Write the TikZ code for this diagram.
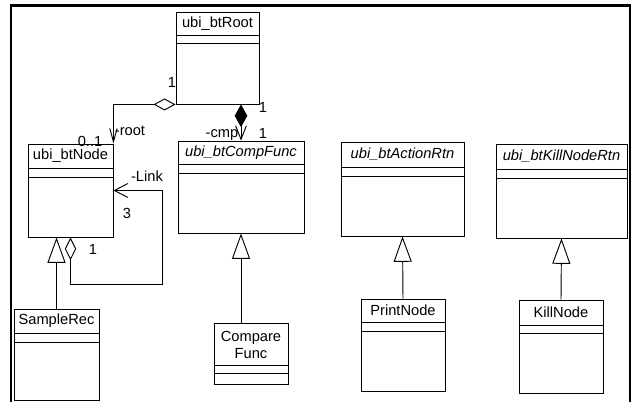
\documentclass[tikz,border=0pt]{standalone}
\usepackage{fontspec}
\setmainfont{Liberation Sans}
\usetikzlibrary{arrows.meta,fit}

\tikzset{
  classbox/.style={draw, inner sep=0pt, line width=0.7pt},
  cname/.style={inner sep=0.75pt, font=\fontsize{11pt}{12.75pt}\selectfont, align=center},
  role/.style={inner sep=0.75pt, font=\fontsize{11pt}{12.75pt}\selectfont},
  inherit/.style={line width=0.7pt, -{Triangle[open, length=19pt, width=13.5pt]}},
  assoc/.style={line width=0.7pt}
}

\begin{document}
\begin{tikzpicture}[x=0.75pt,y=0.75pt,yscale=-1]
  \useasboundingbox (0,0) rectangle (632,402);

  %Frame
  \draw [line width=1.6pt] (11,402) -- (11,5.5) -- (630,5.5) -- (630,402);

  %Class boxes
  \node [classbox, fit={(176,12) (259,104)}] (root) {};
  \node [classbox, fit={(28,144) (113,237)}] (btnode) {};
  \node [classbox, fit={(178,141) (304,233)}] (cmpfunc) {};
  \node [classbox, fit={(341,142) (464,236)}] (actrtn) {};
  \node [classbox, fit={(496,144) (627,238)}] (killrtn) {};
  \node [classbox, fit={(14,309) (99,400)}] (samplerec) {};
  \node [classbox, fit={(214,323) (288,384)}] (comparefunc) {};
  \node [classbox, fit={(361,299) (445,391)}] (printnode) {};
  \node [classbox, fit={(519,300) (603,393)}] (killnode) {};

  %Compartment lines
  \draw [line width=0.7pt] (176,35) -- (259,35) (176,43) -- (259,43);
  \draw [line width=0.7pt] (28,168) -- (113,168) (28,177) -- (113,177);
  \draw [line width=0.7pt] (178,164) -- (304,164) (178,173) -- (304,173);
  \draw [line width=0.7pt] (341,167) -- (464,167) (341,176) -- (464,176);
  \draw [line width=0.7pt] (496,169) -- (627,169) (496,178) -- (627,178);
  \draw [line width=0.7pt] (14,333) -- (99,333) (14,342) -- (99,342);
  \draw [line width=0.7pt] (214,365) -- (288,365) (214,373) -- (288,373);
  \draw [line width=0.7pt] (361,322) -- (445,322) (361,331) -- (445,331);
  \draw [line width=0.7pt] (519,325) -- (603,325) (519,333) -- (603,333);

  % Text Node
  \node [cname] (rootname) at (217.5,23.5) {ubi\_btRoot};
  \node [cname] (btnodename) at (70.5,156) {ubi\_btNode};
  \node [cname] (cmpfuncname) at (241,152.5) {\itshape ubi\_btCompFunc};
  \node [cname] (actrtnname) at (402.5,154.5) {\itshape ubi\_btActionRtn};
  \node [cname] (killrtnname) at (561.5,156.5) {\itshape ubi\_btKillNodeRtn};
  \node [cname] (samplerecname) at (56.5,321) {SampleRec};
  \node [cname] (comparefuncname) at (251,344.5) {Compare\\Func};
  \node [cname] (printnodename) at (403,310.5) {PrintNode};
  \node [cname] (killnodename) at (561,312.5) {KillNode};

  %Association root
  \draw [assoc, {Diamond[open, length=16.5pt, width=9pt]}-{Straight Barb[length=10pt, width=5.5pt]}] (root.south west) -| (btnode.north east);
  %Composition cmp
  \draw [assoc, {Diamond[length=17pt, width=9.5pt]}-{Straight Barb[length=10pt, width=8pt]}] (root.south -| cmpfunc.north) -- (cmpfunc.north);
  %Association Link
  \draw [assoc, {Diamond[open, length=17pt, width=8.5pt]}-{Straight Barb[length=10pt, width=10.5pt]}] (btnode.south) |- (162,284) |- (btnode.east);

  %Generalizations
  \draw [inherit] (samplerec.north) -- (samplerec.north |- btnode.south);
  \draw [inherit] (comparefunc.north -| cmpfunc.south) -- (cmpfunc.south);
  \draw [inherit] (printnode.north) -- (actrtn.south);
  \draw [inherit] (killnode.north) -- (killrtn.south);

  % Role and multiplicity labels
  \node [role] (rootmult) at (172,82) {1};
  \node [role] (nodemult) at (90,141) {0..1};
  \node [role] (rootrole) at (130,131) {-root};
  \node [role] (cmpmulta) at (263,107) {1};
  \node [role] (cmprole) at (222,135) {-cmp};
  \node [role] (cmpmultb) at (263,133) {1};
  \node [role] (linkrole) at (147,176) {-Link};
  \node [role] (linkmulta) at (127,213) {3};
  \node [role] (linkmultb) at (93,249) {1};

\end{tikzpicture}
\end{document}
